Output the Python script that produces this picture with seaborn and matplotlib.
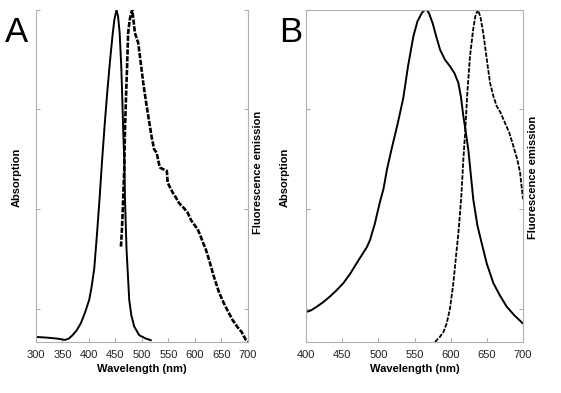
import matplotlib
matplotlib.use("Agg")
import matplotlib.pyplot as plt
import seaborn as sns
import pandas as pd

sns.set_style("white")
plt.rcParams['font.family'] = ['Liberation Sans', 'DejaVu Sans']
plt.rcParams['text.color'] = 'black'

# Panel A data
a_abs_nm = [300, 320, 340, 355, 362, 369, 377, 385, 393, 400.6, 405, 410, 415, 420, 425, 430, 435, 440, 445,
            448, 452, 455, 458, 461, 463, 465, 466.7, 468, 471, 476, 480, 485.5, 495, 507.5, 517]
a_abs_val = [0.015, 0.013, 0.01, 0.006, 0.01, 0.02, 0.035, 0.057, 0.09, 0.127, 0.165, 0.22, 0.32, 0.43, 0.55, 0.66,
             0.76, 0.85, 0.93, 0.97, 1.0, 0.98, 0.93, 0.83, 0.73, 0.62, 0.55, 0.43, 0.277, 0.127, 0.08, 0.046, 0.02,
             0.01, 0.005]
a_em_nm = [460.4, 462, 464, 465, 466.7, 468, 469.8, 472, 474, 477, 479, 481.7, 484, 486.8, 490, 493, 497, 502.5, 507,
           512, 518, 523, 527.7, 533, 534, 540, 547, 548.5, 553, 558, 564, 570, 578, 586, 592.5, 600, 605, 611, 615,
           620.8, 628, 635, 645.9, 655, 663, 671, 680, 688, 696, 700]
a_em_val = [0.287, 0.33, 0.4, 0.45, 0.52, 0.64, 0.73, 0.83, 0.93, 0.97, 0.985, 1.0, 0.97, 0.93, 0.915, 0.9, 0.85, 0.78,
            0.73, 0.68, 0.62, 0.58, 0.57, 0.53, 0.525, 0.52, 0.515, 0.48, 0.465, 0.45, 0.435, 0.418, 0.405, 0.39,
            0.367, 0.35, 0.34, 0.317, 0.3, 0.277, 0.24, 0.2, 0.147, 0.115, 0.09, 0.066, 0.045, 0.03, 0.006, 0.0]

# Panel B data
b_abs_nm = [400, 407, 414.8, 424, 433.2, 442, 451.6, 461, 470, 479, 484, 488.5, 495, 502, 507, 512, 518, 527, 534.5, 541,
            548.4, 554, 560, 564, 566.8, 570, 575, 580, 585.3, 592, 599, 605, 610.6, 614, 617.5, 621, 624.4, 628,
            631.3, 637, 642.9, 650, 659, 668, 677.5, 688, 699.6]
b_abs_val = [0.09, 0.095, 0.106, 0.12, 0.137, 0.155, 0.177, 0.205, 0.237, 0.268, 0.285, 0.307, 0.355, 0.42, 0.46, 0.52,
             0.578, 0.66, 0.735, 0.83, 0.92, 0.965, 0.99, 1.0, 1.0, 0.99, 0.96, 0.92, 0.88, 0.85, 0.83, 0.81, 0.78,
             0.74, 0.68, 0.63, 0.578, 0.50, 0.428, 0.35, 0.297, 0.235, 0.177, 0.14, 0.106, 0.08, 0.056]
b_em_nm = [578.4, 585, 590, 594.5, 599, 603.7, 607, 610.6, 613, 615, 617.5, 620, 623, 626.7, 631, 634, 637.4, 641, 645,
           650, 654.4, 659, 663.6, 669, 675, 681, 686.6, 692, 695.9, 700]
b_em_val = [0.0, 0.015, 0.03, 0.056, 0.1, 0.177, 0.25, 0.327, 0.39, 0.45, 0.55, 0.63, 0.75, 0.86, 0.94, 0.98, 1.0, 0.98,
            0.93, 0.85, 0.78, 0.74, 0.71, 0.69, 0.66, 0.63, 0.59, 0.55, 0.51, 0.43]

xticks_a = [300, 350, 400, 450, 500, 550, 600, 650, 700]
xticks_b = [400, 450, 500, 550, 600, 650, 700]

fig = plt.figure(figsize=(5.61, 3.93), dpi=100)
axA = fig.add_axes([0.064, 0.130, 0.378, 0.845])
axB = fig.add_axes([0.5455, 0.130, 0.3868, 0.845])

def style(ax, xlim, xticks, topspine):
    ax.set_xlim(*xlim)
    ax.set_ylim(0, 1.0)
    ax.set_xticks(xticks)
    ax.set_xticklabels([str(t) for t in xticks], fontsize=8, color='#222222')
    ax.set_yticks([0.1, 0.4, 0.7, 1.0])
    ax.set_yticklabels([])
    ax.tick_params(axis='y', which='both', direction='in', length=3, color='#aaaaaa', left=True, right=True)
    ax.tick_params(axis='x', which='both', direction='in', length=3, color='#aaaaaa', bottom=True, pad=6)
    for s in ['left', 'right', 'bottom', 'top']:
        ax.spines[s].set_color('#b0b0b0')
        ax.spines[s].set_linewidth(0.8)
    ax.spines['top'].set_visible(topspine)
    ax.set_xlabel('Wavelength (nm)', fontsize=8, fontweight='bold', labelpad=3, color='black')
    ax.set_ylabel('')

sns.lineplot(x=a_abs_nm, y=a_abs_val, ax=axA, color='black', linewidth=1.4)
sns.lineplot(x=a_em_nm, y=a_em_val, ax=axA, color='black', linewidth=1.9, linestyle=(0, (2, 0.6)))
sns.lineplot(x=b_abs_nm, y=b_abs_val, ax=axB, color='black', linewidth=1.4)
sns.lineplot(x=b_em_nm, y=b_em_val, ax=axB, color='black', linewidth=1.3, linestyle=(0, (2.5, 0.8)))

style(axA, (300, 700), xticks_a, False)
style(axB, (400, 700), xticks_b, True)

fig.text(17/561, 1 - 177/393, 'Absorption', rotation=90, fontsize=8, fontweight='bold', ha='center', va='center')
fig.text(258/561, 1 - 172/393, 'Fluorescence emission', rotation=90, fontsize=8, fontweight='bold', ha='center', va='center')
fig.text(285/561, 1 - 177/393, 'Absorption', rotation=90, fontsize=8, fontweight='bold', ha='center', va='center')
fig.text(533/561, 1 - 177/393, 'Fluorescence emission', rotation=90, fontsize=8, fontweight='bold', ha='center', va='center')

fig.text(5/561, 1 - 32/393, 'A', fontsize=25, ha='left', va='center', color='black')
fig.text(279/561, 1 - 32/393, 'B', fontsize=25, ha='left', va='center', color='black')

fig.savefig('out.png', dpi=100, facecolor='white')
